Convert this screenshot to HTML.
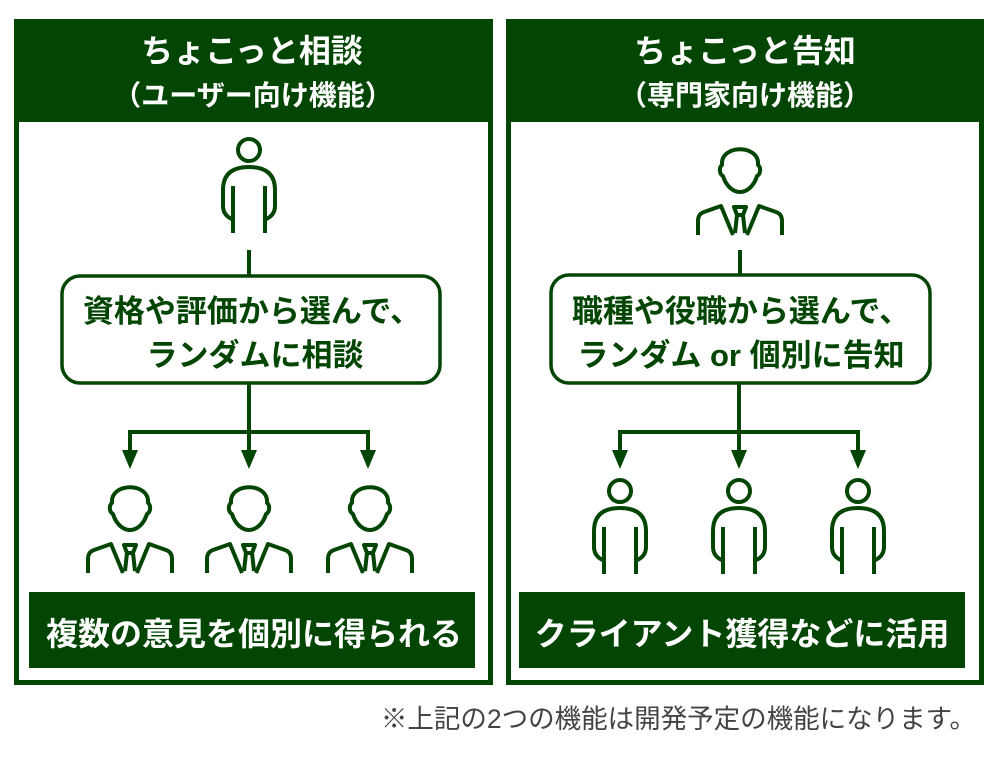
<!DOCTYPE html>
<html><head><meta charset="utf-8"><style>
body{margin:0;background:#fff;}
svg text{font-family:"Liberation Sans","Noto Sans CJK JP",sans-serif;font-weight:bold;}
</style></head><body>
<svg width="1000" height="754" viewBox="0 0 1000 754" xmlns="http://www.w3.org/2000/svg">
<defs>
<g id="sp" fill="none" stroke="#034503" stroke-width="4">
<circle cx="0" cy="0" r="11"/>
<path d="M-15,70 Q-26,66 -26,56 V40 Q-26,17 0,17 Q26,17 26,40 V56 Q26,66 15,70"/>
<path d="M-16,36 V83 M16,36 V83"/>
</g>
<g id="bm" fill="none" stroke="#034503" stroke-width="4" stroke-linejoin="round">
<path d="M-18,22 C-20,1 20,1 18,22 C21,24 21,31 17,33 C14,43 7,49 0,49 C-7,49 -14,43 -17,33 C-21,31 -21,24 -18,22 Z"/>
<path d="M-42,92 V78 Q-42,71 -36,69 L-19,63 L-7,92 M42,92 V78 Q42,71 36,69 L19,63 L7,92"/>
<path d="M-6,64 H6 L3,72 H-3 Z M-3,72 L-5,90 M3,72 L5,90"/>
</g>
</defs>

<rect x="14" y="19" width="479" height="666" fill="#034503"/>
<rect x="19" y="122" width="469" height="558" fill="#fff"/>
<text x="252" y="62" font-size="32" fill="#fff" text-anchor="middle">ちょこっと相談</text>
<text x="253" y="105" font-size="28" fill="#fff" text-anchor="middle">（ユーザー向け機能）</text>
<use href="#sp" x="249" y="150"/>
<line x1="249" y1="250" x2="249" y2="276" stroke="#034503" stroke-width="4"/>
<rect x="62" y="276" width="378" height="107" rx="18" fill="#fff" stroke="#034503" stroke-width="3.5"/>
<text x="252" y="322" font-size="31" fill="#034503" text-anchor="middle">資格や評価から選んで、</text>
<text x="255" y="366" font-size="31" fill="#034503" text-anchor="middle">ランダムに相談</text>
<g stroke="#034503" stroke-width="4" fill="none">
<path d="M249,383 V452 M130,452 V432 H368 V452"/>
</g>
<g fill="#034503">
<path d="M122,450 H138 L130,469 Z"/>
<path d="M241,450 H257 L249,469 Z"/>
<path d="M360,450 H376 L368,469 Z"/>
</g>
<use href="#bm" x="130" y="481"/>
<use href="#bm" x="249" y="481"/>
<use href="#bm" x="370" y="481"/>
<rect x="29" y="592" width="446" height="76" fill="#034503"/>
<text x="254" y="645" font-size="32" fill="#fff" text-anchor="middle">複数の意見を個別に得られる</text>

<rect x="506" y="19" width="478" height="666" fill="#034503"/>
<rect x="511" y="122" width="468" height="558" fill="#fff"/>
<text x="745" y="62" font-size="32" fill="#fff" text-anchor="middle">ちょこっと告知</text>
<text x="745" y="105" font-size="28" fill="#fff" text-anchor="middle">（専門家向け機能）</text>
<use href="#bm" x="740" y="143"/>
<line x1="740" y1="250" x2="740" y2="275" stroke="#034503" stroke-width="4"/>
<rect x="551" y="275" width="379" height="108" rx="18" fill="#fff" stroke="#034503" stroke-width="3.5"/>
<text x="741" y="322" font-size="31" fill="#034503" text-anchor="middle">職種や役職から選んで、</text>
<text x="741" y="366" font-size="31" fill="#034503" text-anchor="middle" xml:space="preserve">ランダム or 個別に告知</text>
<g stroke="#034503" stroke-width="4" fill="none">
<path d="M739,383 V452 M620,452 V432 H858 V452"/>
</g>
<g fill="#034503">
<path d="M612,450 H628 L620,469 Z"/>
<path d="M731,450 H747 L739,469 Z"/>
<path d="M850,450 H866 L858,469 Z"/>
</g>
<use href="#sp" x="620" y="491"/>
<use href="#sp" x="739" y="491"/>
<use href="#sp" x="858" y="491"/>
<rect x="519" y="592" width="446" height="76" fill="#034503"/>
<text x="742" y="645" font-size="32" fill="#fff" text-anchor="middle">クライアント獲得などに活用</text>

<text x="976" y="728" font-size="26.5" fill="#444" text-anchor="end" style="font-weight:normal">※上記の2つの機能は開発予定の機能になります。</text>
</svg>
</body></html>
